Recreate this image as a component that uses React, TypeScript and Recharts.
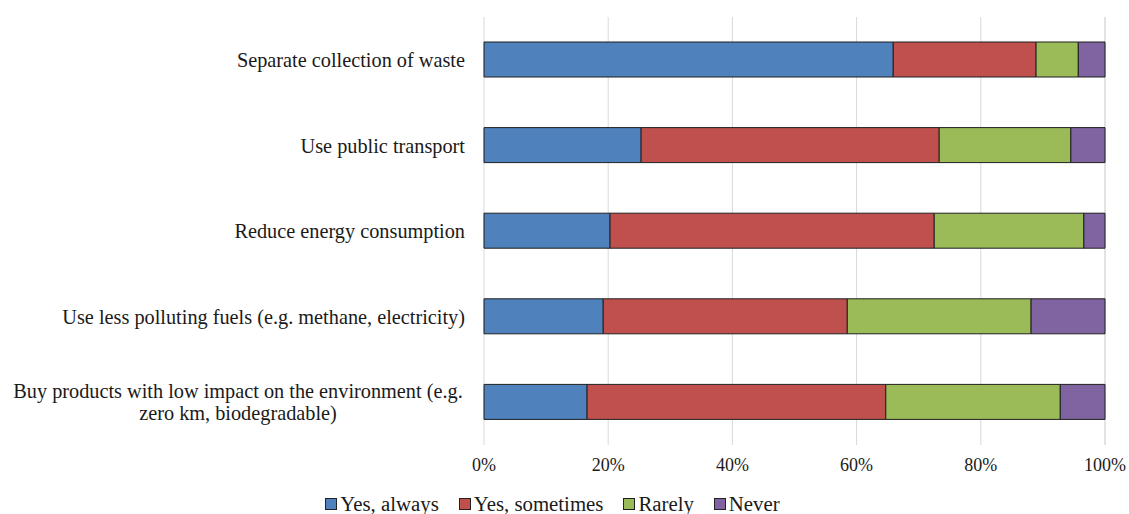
import { Bar, BarChart, CartesianGrid, Legend, XAxis, YAxis } from 'recharts'

const categories = [
  'Separate collection of waste',
  'Use public transport',
  'Reduce energy consumption',
  'Use less polluting fuels (e.g. methane, electricity)',
  'Buy products with low impact on the environment (e.g.|zero km, biodegradable)',
]
const yesAlways = [65.9, 25.3, 20.3, 19.2, 16.6]
const yesSometimes = [23.0, 48.0, 52.2, 39.3, 48.1]
const rarely = [6.8, 21.2, 24.1, 29.6, 28.1]
const never = [4.3, 5.5, 3.4, 11.9, 7.2]
const xTicks = [0, 20, 40, 60, 80, 100]

const SERIES = [
  { key: 'always', name: 'Yes, always', color: '#4F81BD' },
  { key: 'sometimes', name: 'Yes, sometimes', color: '#C0504D' },
  { key: 'rarely', name: 'Rarely', color: '#9BBB59' },
  { key: 'never', name: 'Never', color: '#8064A2' },
]

const data = categories.map((c, i) => ({
  category: c,
  always: yesAlways[i],
  sometimes: yesSometimes[i],
  rarely: rarely[i],
  never: never[i],
}))

const FONT = "'Liberation Serif', 'DejaVu Serif', serif"

function CategoryTick(props: any) {
  const { x, y, payload } = props
  const lines = String(payload.value).split('|')
  if (lines.length === 1) {
    return (
      <text x={x} y={y} dy="0.35em" textAnchor="end" fill="#1a1a1a" fontSize={20.3} style={{ fontFamily: FONT }}>
        {lines[0]}
      </text>
    )
  }
  const cx = x - 227
  return (
    <text x={cx} y={y} textAnchor="middle" fill="#1a1a1a" fontSize={20.3} style={{ fontFamily: FONT }}>
      {lines.map((l, i) => (
        <tspan key={i} x={cx} dy={i === 0 ? '-0.2em' : '1.1em'}>
          {l}
        </tspan>
      ))}
    </text>
  )
}

function LegendContent() {
  return (
    <div
      style={{
        display: 'flex',
        justifyContent: 'center',
        gap: 20,
        fontFamily: FONT,
        fontSize: 20.8,
        lineHeight: '20px',
        color: '#1a1a1a',
      }}
    >
      {SERIES.map((s) => (
        <div key={s.key} style={{ display: 'flex', alignItems: 'center' }}>
          <span
            style={{
              display: 'inline-block',
              width: 10,
              height: 10,
              background: s.color,
              border: '1px solid #222',
              marginRight: 3,
            }}
          />
          {s.name}
        </div>
      ))}
    </div>
  )
}

export default function App() {
  return (
    <div style={{ position: 'absolute', left: 0, top: 0, width: 1129, height: 514, background: '#fff' }}>
      <BarChart
        width={1129}
        height={514}
        data={data}
        layout="vertical"
        margin={{ top: 17, right: 24, left: 0, bottom: 0 }}
      >
        <CartesianGrid horizontal={false} stroke="#d9d9d9" />
        <XAxis
          type="number"
          domain={[0, 100]}
          ticks={xTicks}
          tickFormatter={(v) => `${v}%`}
          axisLine={false}
          tickLine={false}
          tickMargin={7}
          height={49}
          tick={{ fill: '#1a1a1a', fontSize: 18, style: { fontFamily: FONT } }}
        />
        <YAxis
          type="category"
          dataKey="category"
          width={484}
          axisLine={false}
          tickLine={false}
          tickMargin={13}
          tick={<CategoryTick />}
        />
        <Legend verticalAlign="bottom" height={20} content={<LegendContent />} />
        {SERIES.map((s) => (
          <Bar
            key={s.key}
            dataKey={s.key}
            name={s.name}
            stackId="a"
            fill={s.color}
            stroke="#1f1f1f"
            strokeWidth={1}
            barSize={35}
            isAnimationActive={false}
          />
        ))}
      </BarChart>
    </div>
  )
}
